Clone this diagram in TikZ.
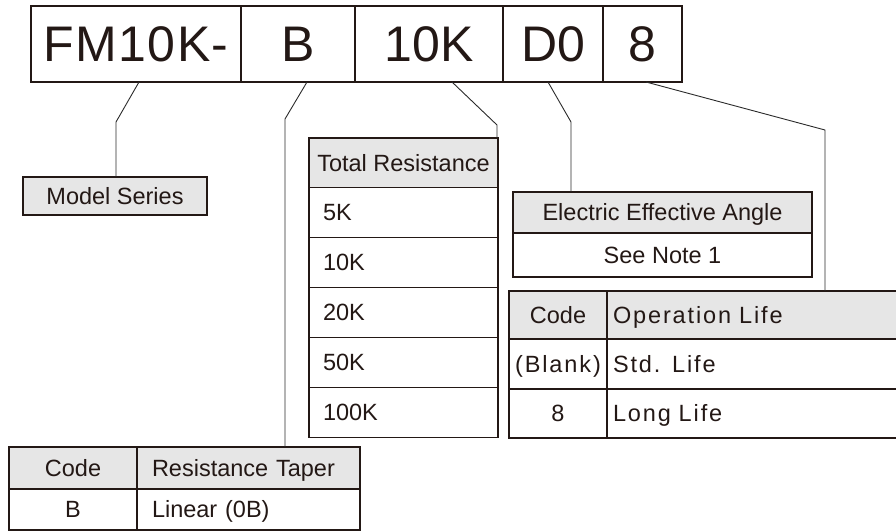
\documentclass[tikz,border=0pt]{standalone}
\usepackage{fontspec}
\setmainfont{Liberation Sans}
\newfontfamily\spfont[LetterSpace=8]{Liberation Sans}
\newfontfamily\topfont[LetterSpace=3]{Liberation Sans}
\definecolor{ink}{HTML}{231815}
\definecolor{hd}{HTML}{E6E6E6}
\definecolor{wire}{HTML}{2A2A2A}
\newcommand\tabsz{\fontsize{23.5}{28}\selectfont}
\newcommand\bigsz{\fontsize{50}{60}\selectfont}
\begin{document}
\begin{tikzpicture}[x=1pt,y=-1pt,
 cell/.style={draw=ink, line width=1.6pt, inner sep=0pt, outer sep=0pt, text=ink, font=\tabsz, text height=16.8pt, text depth=0pt, anchor=north west},
 head/.style={cell, fill=hd},
 topcell/.style={cell, line width=2pt, font=\bigsz, text height=35.8pt, minimum height=76pt},
 lft/.style={text width=#1, align=left},
 conn/.style={draw=wire, line width=0.9pt}]
\useasboundingbox (0,0) rectangle (896,532);
% top code box
\node[topcell, minimum width=210pt, font=\topfont\bigsz] (fm) at (31,6) {FM10K-};
\node[topcell, minimum width=114pt] (b) at (241,6) {B};
\node[topcell, minimum width=148pt] (k) at (355,6) {10K};
\node[topcell, minimum width=100pt] (d) at (503,6) {D0};
\node[topcell, minimum width=79pt] (e) at (603,6) {8};
% model series
\node[head, minimum width=184pt, minimum height=38pt] (ms) at (23,177) {Model Series};
% total resistance
\node[head, minimum width=189pt, minimum height=49.5pt] (trh) at (309,138) {Total Resistance};
\node[cell, minimum width=189pt, minimum height=50pt, lft=161pt, inner xsep=14pt] (tr1) at (309,187.5) {5K};
\node[cell, minimum width=189pt, minimum height=50pt, lft=161pt, inner xsep=14pt] (tr2) at (309,237.5) {10K};
\node[cell, minimum width=189pt, minimum height=50pt, lft=161pt, inner xsep=14pt] (tr3) at (309,287.5) {20K};
\node[cell, minimum width=189pt, minimum height=50pt, lft=161pt, inner xsep=14pt] (tr4) at (309,337.5) {50K};
\node[cell, minimum width=189pt, minimum height=50pt, lft=161pt, inner xsep=14pt] (tr5) at (309,387.5) {100K};
% electric effective angle
\node[head, minimum width=299pt, minimum height=41pt] (eah) at (513,192) {Electric Effective Angle};
\node[cell, minimum width=299pt, minimum height=44pt] (ea1) at (513,233) {See Note 1};
% operation life
\node[head, minimum width=98pt, minimum height=48pt] (olc) at (509,291) {Code};
\node[head, minimum width=293pt, minimum height=48pt, lft=281pt, inner xsep=6pt, font=\tabsz\spfont] (olh) at (607,291) {Operation Life};
\node[cell, minimum width=98pt, minimum height=50pt, font=\tabsz\spfont] (olc1) at (509,339) {(Blank)};
\node[cell, minimum width=293pt, minimum height=50pt, lft=281pt, inner xsep=6pt, font=\tabsz\spfont] (ol1) at (607,339) {Std. Life};
\node[cell, minimum width=98pt, minimum height=49pt, font=\tabsz\spfont] (olc2) at (509,389) {8};
\node[cell, minimum width=293pt, minimum height=49pt, lft=281pt, inner xsep=6pt, font=\tabsz\spfont] (ol2) at (607,389) {Long Life};
% resistance taper
\node[head, minimum width=128pt, minimum height=42pt] (rtc) at (9,447) {Code};
\node[head, minimum width=223pt, minimum height=42pt, lft=193pt, inner xsep=15pt] (rth) at (137,447) {Resistance Taper};
\node[cell, minimum width=128pt, minimum height=41pt] (rtc1) at (9,489) {B};
\node[cell, minimum width=223pt, minimum height=41pt, lft=193pt, inner xsep=15pt] (rt1) at (137,489) {Linear (0B)};
% connectors
\coordinate (c1) at (116,122);
\coordinate (c2) at (285,119);
\coordinate (c3) at (497,125);
\coordinate (c4) at (571,122);
\coordinate (c5) at (825,130);
\draw[conn] ([xshift=3pt]fm.south) -- (c1) -- (c1 |- ms.north);
\draw[conn] ([xshift=9pt]b.south) -- (c2) -- (c2 |- rth.north);
\draw[conn] ([xshift=23pt]k.south) -- (c3) -- (c3 |- trh.north);
\draw[conn] ([xshift=-5pt]d.south) -- (c4) -- (c4 |- eah.north);
\draw[conn] ([xshift=3.5pt]e.south) -- (c5) -- (c5 |- olh.north);
\end{tikzpicture}
\end{document}
